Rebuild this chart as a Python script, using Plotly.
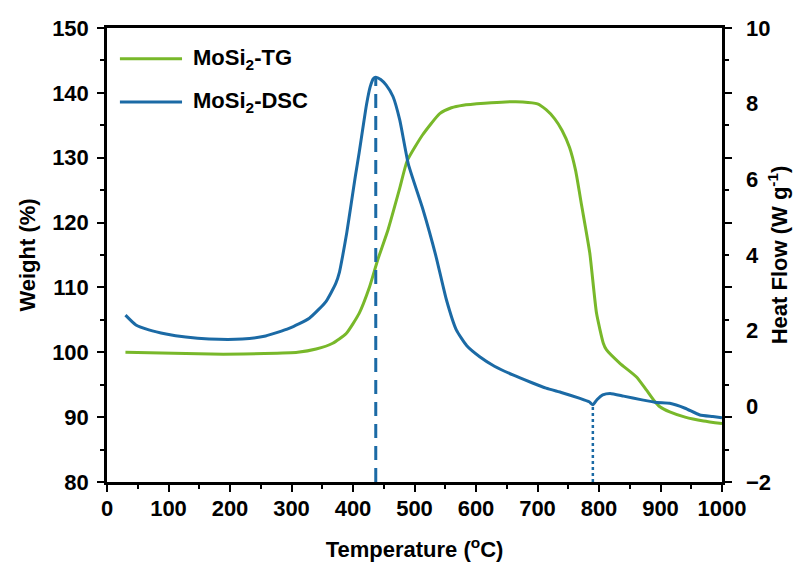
import plotly.graph_objects as go

# ---------------- data ----------------
tg_temp = [30, 108, 189, 256, 310, 340, 367, 389, 410, 427, 440, 457, 476, 488, 513, 541, 560, 579,
           614, 648, 676, 700, 714, 728, 740, 752, 762, 772, 785, 796, 807, 812, 834, 861, 877, 890,
           899, 915, 940, 970, 1000]
tg_weight = [100.0, 99.85, 99.7, 99.8, 100.0, 100.5, 101.4, 102.9, 106.0, 110.1, 114.2, 118.9, 125.3, 129.5,
             133.5, 136.8, 137.7, 138.1, 138.4, 138.6, 138.6, 138.3, 137.4, 136.0, 134.2, 131.6, 128.0,
             122.5, 115.3, 106.0, 101.4, 100.4, 98.3, 96.2, 94.2, 92.5, 91.6, 90.8, 90.0, 89.4, 89.0]

dsc_temp = [30, 47, 68, 96, 128, 166, 220, 258, 296, 329, 356, 372, 378, 383, 390, 397, 404, 410, 416,
            422, 428, 433, 437, 445, 454, 465, 476, 490, 514, 535, 552, 568, 585, 606, 630, 660, 690,
            714, 740, 769, 784, 790, 797, 806, 818, 840, 870, 894, 915, 940, 964, 985, 1000]
dsc_heat = [2.41, 2.15, 2.02, 1.91, 1.83, 1.78, 1.78, 1.86, 2.06, 2.33, 2.77, 3.25, 3.55, 3.96, 4.6, 5.35,
            6.1, 6.7, 7.35, 7.98, 8.45, 8.66, 8.70, 8.64, 8.49, 8.19, 7.57, 6.40, 5.19, 3.96, 2.81, 2.02,
            1.60, 1.31, 1.06, 0.83, 0.63, 0.48, 0.36, 0.21, 0.12, 0.04, 0.18, 0.30, 0.34, 0.27, 0.17,
            0.10, 0.08, -0.05, -0.23, -0.27, -0.30]

peak_temp = 437
peak_heat = 8.70
dip_temp = 790
dip_heat = 0.04
heat_min = -2

series_names = ["MoSi<sub>2</sub>-TG", "MoSi<sub>2</sub>-DSC"]

GREEN = "#78b82a"
BLUE = "#1b6aa5"
FONT = "Liberation Sans"

fig = go.Figure()
fig.add_trace(go.Scatter(x=tg_temp, y=tg_weight, mode="lines", name=series_names[0],
                         line=dict(color=GREEN, width=3, shape="spline", smoothing=0.5),
                         showlegend=False, yaxis="y"))
fig.add_trace(go.Scatter(x=dsc_temp, y=dsc_heat, mode="lines", name=series_names[1],
                         line=dict(color=BLUE, width=3, shape="spline", smoothing=0.5),
                         showlegend=False, yaxis="y2"))
fig.add_trace(go.Scatter(x=[peak_temp, peak_temp], y=[heat_min, peak_heat], mode="lines",
                         line=dict(color=BLUE, width=3, dash="14px,8px"), showlegend=False, yaxis="y2"))
fig.add_trace(go.Scatter(x=[dip_temp, dip_temp], y=[heat_min, dip_heat], mode="lines",
                         line=dict(color=BLUE, width=2.5, dash="3px,3px"), showlegend=False, yaxis="y2"))

# custom legend (longer line samples, as in the reference)
legend_rows = [(0.932, GREEN, series_names[0]), (0.837, BLUE, series_names[1])]
for ypos, col, txt in legend_rows:
    fig.add_shape(type="line", xref="paper", yref="paper", x0=0.021, x1=0.122, y0=ypos, y1=ypos,
                  line=dict(color=col, width=3))
    fig.add_annotation(xref="paper", yref="paper", x=0.136, y=ypos, xanchor="left", yanchor="middle",
                       text=txt, showarrow=False,
                       font=dict(family=FONT, size=22, color="black", weight="bold"))

tickfont = dict(family=FONT, size=22, color="black", weight="bold")
titlefont = dict(family=FONT, size=22, color="black", weight="bold")

# the page body adds an 8px offset, so the figure is drawn 8px smaller
fig.update_layout(
    width=796, height=562,
    margin=dict(l=99, r=82, t=20, b=88),
    paper_bgcolor="white", plot_bgcolor="white",
    showlegend=False,
    xaxis=dict(range=[0, 1000], dtick=100, tick0=0, showgrid=False, zeroline=False, automargin=False,
               showline=True, linecolor="black", linewidth=2.5, mirror=True,
               ticks="outside", ticklen=7, tickwidth=2, tickcolor="black",
               minor=dict(dtick=50, ticks="outside", ticklen=4, tickwidth=2, tickcolor="black"),
               tickfont=tickfont, ticklabelstandoff=-2,
               title=dict(text="Temperature (<sup>o</sup>C)", font=titlefont, standoff=22)),
    yaxis=dict(range=[80, 150], dtick=10, tick0=80, showgrid=False, zeroline=False, automargin=False,
               showline=True, linecolor="black", linewidth=2.5, mirror="ticks",
               ticks="outside", ticklen=7, tickwidth=2, tickcolor="black",
               minor=dict(dtick=5, ticks="outside", ticklen=4, tickwidth=2, tickcolor="black"),
               tickfont=tickfont, ticklabelstandoff=4,
               title=dict(text="Weight (%)", font=titlefont, standoff=11)),
    yaxis2=dict(range=[-2, 10], dtick=2, tick0=-2, overlaying="y", side="right", showgrid=False,
                zeroline=False, showline=False, ticks="", tickfont=tickfont, automargin=False,
                ticklabelstandoff=23,
                title=dict(text="Heat Flow (W g<sup>-1</sup>)", font=titlefont, standoff=1)),
)

fig.write_html("out.html")
